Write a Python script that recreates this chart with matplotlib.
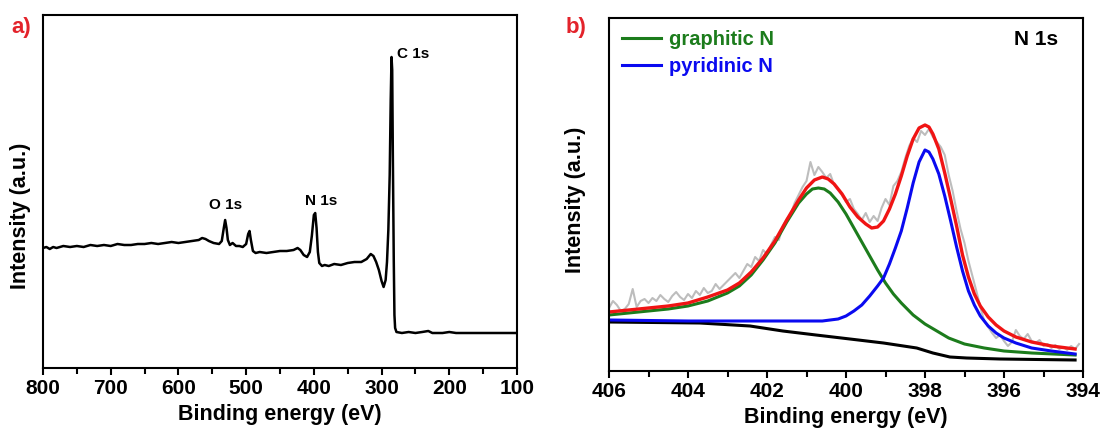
import matplotlib
matplotlib.use("Agg")
import matplotlib.pyplot as plt
import numpy as np

plt.rcParams['font.family'] = ['Liberation Sans', 'DejaVu Sans']
plt.rcParams['font.weight'] = 'bold'

# a) survey spectrum (binding energy in eV, intensity in a.u.)
survey_energy = [800, 795, 790, 785, 780, 770, 760, 750, 740, 730, 720, 710, 700, 690, 680,
                 670, 660, 650, 640, 630, 620, 610, 600, 590, 580, 570, 565, 560, 555, 548,
                 540, 536, 533, 531, 529, 527, 524, 520, 515, 510, 505, 500, 497, 495, 493,
                 490, 486, 480, 470, 460, 450, 440, 430, 424, 420, 415, 410, 406, 403, 400,
                 398, 396, 394, 392, 388, 384, 378, 370, 360, 350, 340, 330, 322, 316, 312,
                 308, 304, 300, 297, 294, 292, 290, 288, 286.5, 285.3, 284.3, 283.3, 282, 281,
                 280, 278, 270, 260, 250, 240, 231, 225, 210, 200, 190, 170, 150, 130, 100]
survey_counts = [120, 121, 119, 121, 120, 122, 121, 122, 121, 123, 122, 123, 122, 124, 123,
                 123, 124, 124, 125, 124, 125, 126, 125, 126, 127, 128, 130, 129, 127, 125,
                 124, 127, 140, 148, 140, 128, 123, 125, 122, 122, 121, 124, 134, 137, 128,
                 117, 115, 116, 115, 116, 117, 117, 118, 120, 118, 113, 111, 116, 132, 153,
                 155, 140, 116, 105, 102, 103, 102, 104, 103, 105, 106, 106, 109, 114, 112,
                 106, 98, 87, 81, 88, 106, 138, 193, 268, 311, 298, 208, 108, 53,
                 40, 36, 35, 36, 35, 36, 37, 35, 35, 36, 35, 35, 35, 35, 35]
survey_labels = ["O 1s", "N 1s", "C 1s"]
survey_label_pos = [(531, 163), (389, 167), (277, 314)]

# b) N 1s high resolution spectrum
raw_counts = [63, 70, 66, 60, 62, 67, 82, 64, 70, 72,
              68, 73, 70, 76, 72, 69, 75, 79, 74, 71,
              77, 73, 80, 76, 83, 78, 80, 87, 82, 86,
              90, 94, 98, 93, 100, 107, 104, 114, 110, 121,
              117, 126, 134, 131, 145, 152, 157, 168, 176, 184,
              190, 209, 196, 204, 199, 193, 197, 186, 181, 176,
              169, 172, 162, 157, 151, 158, 149, 155, 150, 163,
              172, 166, 185, 190, 199, 213, 225, 233, 229, 240,
              236, 242, 234, 229, 224, 216, 196, 180, 160, 142,
              128, 110, 95, 80, 64, 50, 44, 38, 33, 36,
              30, 25, 29, 41, 35, 32, 37, 30, 28, 31,
              25, 27, 23, 26, 22, 24, 21, 25, 22, 27]
raw_energy = np.round(406.0 - 0.1 * np.arange(len(raw_counts)), 1)

fit_energy = [406, 405.5, 405, 404.5, 404, 403.5, 403, 402.7, 402.4, 402.1, 401.8, 401.5,
              401.2, 401.0, 400.8, 400.6, 400.45, 400.3, 400.1, 399.9, 399.7, 399.5, 399.35,
              399.2, 399.05, 398.9, 398.75, 398.6, 398.45, 398.3, 398.15, 398.0, 397.9, 397.8,
              397.65, 397.5, 397.35, 397.2, 397.05, 396.9, 396.75, 396.6, 396.4, 396.2, 396.0,
              395.7, 395.3, 394.8, 394.2]
fit_counts = [59, 61, 63, 65, 68, 74, 81, 88, 99, 113, 130, 151,
              171, 183, 191, 194, 192, 187, 177, 164, 154, 147, 143,
              144, 150, 162, 177, 195, 215, 232, 243, 246, 244, 237,
              222, 198, 172, 145, 116, 94, 77, 65, 54, 46, 40,
              34, 29, 25, 22]

graphitic_energy = [406, 405.5, 405, 404.5, 404, 403.5, 403, 402.7, 402.4, 402.1, 401.8, 401.5,
                    401.2, 401.0, 400.85, 400.7, 400.55, 400.4, 400.2, 400.0, 399.8, 399.6,
                    399.4, 399.2, 399.0, 398.8, 398.6, 398.3, 398.0, 397.7, 397.4, 397.0,
                    396.5, 396.0, 395.3, 394.2]
graphitic_counts = [56, 58, 60, 62, 65, 70, 78, 85, 96, 111, 128, 149,
                    168, 177, 182, 183, 182, 178, 169, 157, 143, 129,
                    115, 101, 88, 77, 68, 56, 47, 40, 33, 27,
                    23, 20, 18, 16]

pyridinic_energy = [406, 404, 402, 400.6, 400.4, 400.2, 400.0, 399.8, 399.6, 399.4, 399.2,
                    399.05, 398.9, 398.75, 398.6, 398.45, 398.3, 398.15, 398.0, 397.9, 397.8,
                    397.65, 397.5, 397.35, 397.2, 397.05, 396.9, 396.75, 396.6, 396.4, 396.2,
                    396.0, 395.7, 395.3, 394.8, 394.2]
pyridinic_counts = [51, 50, 50, 50, 51, 52, 55, 60, 66, 75, 85,
                    93, 107, 123, 140, 163, 188, 209, 221, 219, 212,
                    197, 175, 150, 124, 100, 80, 66, 55, 45, 38,
                    33, 28, 23, 20, 17]

bg_energy = [406, 403.7, 402.43, 401.6, 400.76, 399.9, 399.05, 398.21, 397.8, 397.37,
             396.95, 396.1, 394.2]
bg_counts = [49, 48, 45, 40, 36, 32, 28, 23, 18, 14, 13, 12, 11]

red_label = '#e3232b'

fig = plt.figure(figsize=(11.05, 4.30), dpi=100)
ax1 = fig.add_axes([43 / 1105, 62 / 430, 474 / 1105, 353 / 430])
ax2 = fig.add_axes([609 / 1105, 59 / 430, 474 / 1105, 353 / 430])

# ---- panel a
ax1.plot(survey_energy, survey_counts, color='black', lw=1.8)
for lab, (x, y) in zip(survey_labels, survey_label_pos):
    ha = 'left' if lab == "C 1s" else 'center'
    ax1.text(x, y, lab, fontsize=11, fontweight='bold', ha=ha, va='center')
ax1.set_xlim(800, 100)
ax1.set_ylim(0, 353)
ax1.set_xticks([800, 700, 600, 500, 400, 300, 200, 100])
ax1.set_xticks(np.arange(750, 100, -100), minor=True)

# ---- panel b
ax2.plot(raw_energy, raw_counts, color='#bdbdbd', lw=1.5)
ax2.plot(bg_energy, bg_counts, color='black', lw=2.2)
ax2.plot(graphitic_energy, graphitic_counts, color='#1c7c1c', lw=2.2, label='graphitic N')
ax2.plot(pyridinic_energy, pyridinic_counts, color='#0a0af0', lw=2.2, label='pyridinic N')
ax2.plot(fit_energy, fit_counts, color='#f01414', lw=2.4)
ax2.set_xlim(406, 394)
ax2.set_ylim(0, 353)
ax2.set_xticks([406, 404, 402, 400, 398, 396, 394])
ax2.set_xticks([405, 403, 401, 399, 397, 395], minor=True)
ax2.text(0.947, 0.938, "N 1s", transform=ax2.transAxes, fontsize=15, fontweight='bold',
         ha='right', va='center')
leg = ax2.legend(loc='upper left', bbox_to_anchor=(0.028, 0.966), frameon=False,
                 fontsize=14.5, handlelength=1.9, handletextpad=0.4, labelspacing=0.4,
                 borderpad=0, borderaxespad=0)
for txt, line in zip(leg.get_texts(), leg.get_lines()):
    txt.set_color(line.get_color())
    txt.set_fontweight('bold')

for ax in (ax1, ax2):
    for s in ax.spines.values():
        s.set_linewidth(1.5)
    ax.set_yticks([])
    ax.tick_params(axis='x', which='both', direction='out', width=1.5, labelsize=15, pad=3)
    ax.tick_params(axis='x', which='major', length=5)
    ax.tick_params(axis='x', which='minor', length=4)
    for t in ax.get_xticklabels():
        t.set_fontweight('bold')
    ax.set_xlabel("Binding energy (eV)", fontsize=15.5, fontweight='bold', labelpad=4)
    ax.set_ylabel("Intensity (a.u.)", fontsize=15.5, fontweight='bold')

ax1.yaxis.set_label_coords(-0.025, 0.43)
ax2.yaxis.set_label_coords(-0.0485, 0.484)

fig.text(11 / 1105, 1 - 27 / 430, "a)", color=red_label, fontsize=16, fontweight='bold',
         ha='left', va='center')
fig.text(566 / 1105, 1 - 28 / 430, "b)", color=red_label, fontsize=16, fontweight='bold',
         ha='left', va='center')

fig.savefig("out.png", dpi=100)
